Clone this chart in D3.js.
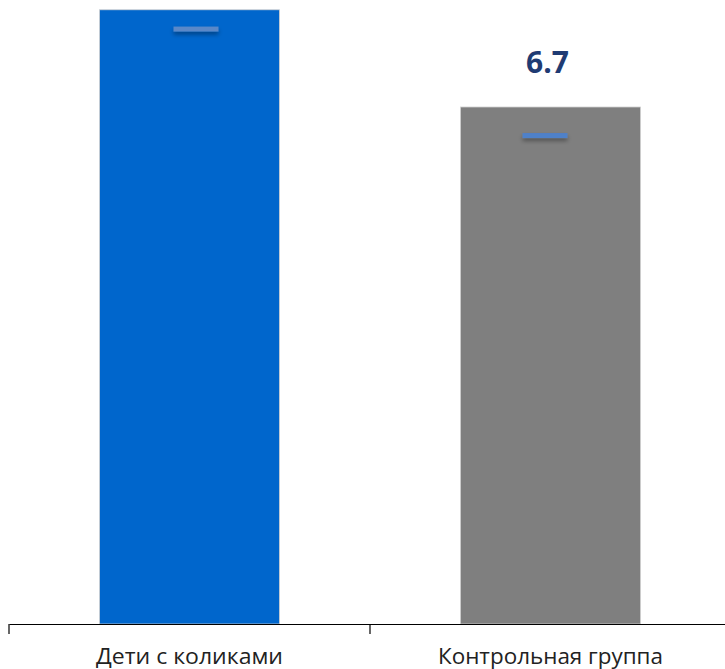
<!DOCTYPE html>
<html><head><meta charset="utf-8">
<script src="https://cdn.jsdelivr.net/npm/d3@7"></script>
<style>html,body{margin:0;padding:0;background:#fff;}svg{display:block;}</style>
</head><body>
<script>
const categories = ["Дети с коликами", "Контрольная группа"];
const values = [7.96, 6.7];
const errors = [0.25, 0.37];
const labels = ["", "6.7"];
const colors = ["#0066cc", "#7f7f7f"];

const W = 725, H = 669;
const svg = d3.select("body").append("svg").attr("width", W).attr("height", H);

const x = d3.scaleBand().domain(categories).range([9, 731]).paddingInner(0).paddingOuter(0);
const y = d3.scaleLinear().domain([0, 6.7]).range([624, 107]);
const bw = 180;
const capShift = [6.5, -5.5];

// bars
svg.selectAll("rect.bar").data(categories).enter().append("rect")
  .attr("class", "bar")
  .attr("x", d => x(d) + x.bandwidth() / 2 - bw / 2)
  .attr("width", bw)
  .attr("y", (d, i) => y(values[i]))
  .attr("height", (d, i) => y(0) - y(values[i]))
  .attr("fill", (d, i) => colors[i])
  .attr("stroke", "#d0d0d0").attr("stroke-width", 0.8);

// error caps (lower end visible)
const defs = svg.append("defs");
const f = defs.append("filter").attr("id", "sh").attr("x", "-30%").attr("y", "-150%").attr("width", "160%").attr("height", "500%");
f.append("feDropShadow").attr("dx", 0).attr("dy", 3).attr("stdDeviation", 2).attr("flood-color", "#000").attr("flood-opacity", 0.35);

svg.selectAll("rect.cap").data(categories).enter().append("rect")
  .attr("class", "cap")
  .attr("x", (d, i) => x(d) + x.bandwidth() / 2 - 22.5 + capShift[i])
  .attr("width", 45)
  .attr("y", (d, i) => y(values[i] - errors[i]) - 2.5)
  .attr("height", 5)
  .attr("fill", (d, i) => i === 0 ? "#5a88c8" : "#4f81c8")
  .attr("filter", "url(#sh)");

// value labels
svg.selectAll("text.val").data(categories.filter((d, i) => labels[i] !== "")).enter().append("text")
  .attr("class", "val")
  .attr("x", d => x(d) + x.bandwidth() / 2 - 3)
  .attr("y", d => y(values[categories.indexOf(d)]) - 34)
  .attr("text-anchor", "middle")
  .attr("font-family", "'Open Sans', 'DejaVu Sans', sans-serif")
  .attr("font-weight", "bold")
  .attr("font-size", 30)
  .attr("fill", "#1f3b73")
  .text(d => labels[categories.indexOf(d)]);

// axis
const axis = d3.axisBottom(x).tickSize(0).tickFormat("");
const ag = svg.append("g").attr("transform", "translate(0,624)").call(axis);
ag.select(".domain").attr("stroke", "#000").attr("stroke-width", 1.2);
// boundary ticks
const bounds = [x(categories[0]), x(categories[1]), x(categories[1]) + x.bandwidth()];
ag.selectAll("line.bt").data(bounds).enter().append("line")
  .attr("class", "bt")
  .attr("x1", d => d).attr("x2", d => d)
  .attr("y1", 0).attr("y2", 10)
  .attr("stroke", "#000").attr("stroke-width", 1.2);

const widths = [187, 225];
svg.selectAll("text.cat").data(categories).enter().append("text")
  .attr("class", "cat")
  .attr("x", d => x(d) + x.bandwidth() / 2)
  .attr("y", 664)
  .attr("text-anchor", "middle")
  .attr("font-family", "'Open Sans', 'DejaVu Sans', sans-serif")
  .attr("font-size", 22)
  .attr("fill", "#222")
  .attr("textLength", (d, i) => widths[i])
  .attr("lengthAdjust", "spacingAndGlyphs")
  .text(d => d);
</script>
</body></html>
